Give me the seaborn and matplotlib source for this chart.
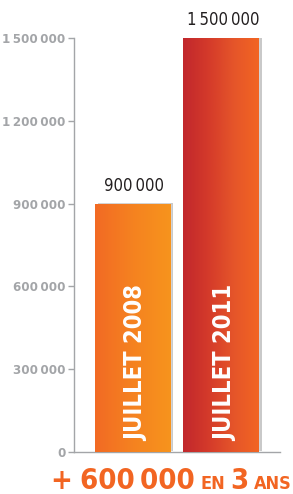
import numpy as np
import pandas as pd
import seaborn as sns
import matplotlib.pyplot as plt
import matplotlib.patheffects as PathEffects
from matplotlib.colors import LinearSegmentedColormap

# données
categories = ['JUILLET 2008', 'JUILLET 2011']
valeurs = [900000, 1500000]
yticks = [0, 300000, 600000, 900000, 1200000, 1500000]
titre_parts = ['+', '600\u2009000', 'EN', '3', 'ANS']

ORANGE = '#F26522'
GRIS = '#A3A5A8'


def fmt(v):
    return f'{v:,}'.replace(',', '\u2009')


df = pd.DataFrame({'periode': categories, 'valeur': valeurs})

sns.set_style('white')
plt.rcParams['font.family'] = ['DejaVu Sans']

fig = plt.figure(figsize=(2.93, 4.94), dpi=100)
ax = fig.add_axes([74 / 293, 42 / 494, 206 / 293, 414 / 494])

sns.barplot(data=df, x='periode', y='valeur', color=ORANGE, width=0.85,
            ax=ax, zorder=2)

# dégradés des barres
degrades = [
    LinearSegmentedColormap.from_list('b1', ['#F26A24', '#F58220', '#F7941D']),
    LinearSegmentedColormap.from_list('b2', ['#C1272D', '#D43A2A', '#E5552A', '#F26522']),
]
grad = np.linspace(0, 1, 256).reshape(1, -1)
for p, cmap in zip(ax.patches, degrades):
    x0, w, h = p.get_x(), p.get_width(), p.get_height()
    p.set_path_effects([PathEffects.SimplePatchShadow(offset=(2.5, 0.5), shadow_rgbFace='#888888', alpha=0.45),
                        PathEffects.Normal()])
    im = ax.imshow(grad, cmap=cmap, aspect='auto', extent=(x0, x0 + w, 0, h),
                   zorder=3, interpolation='bicubic')
    im.set_clip_path(p)

ax.set_xlim(-0.66, 1.67)
ax.set_ylim(0, 1500000)

# valeurs au-dessus des barres
for i, v in enumerate(valeurs):
    ax.annotate(fmt(v), (i, v), xytext=(2, 9), textcoords='offset pixels',
                ha='center', va='bottom', fontsize=12, color='#231F20',
                fontstretch='condensed', annotation_clip=False)
    ax.annotate(categories[i], (i, 0), xytext=(4, 11), textcoords='offset pixels',
                ha='center', va='bottom', rotation=90, fontsize=17,
                fontweight='bold', color='white', fontstretch='condensed', zorder=5)

# axes
ax.set_xlabel('')
ax.set_ylabel('')
ax.set_xticks([])
ax.set_yticks(yticks)
ax.set_yticklabels([fmt(t) for t in yticks], fontsize=9.5, fontweight='bold',
                   color=GRIS, fontstretch='condensed')
ax.tick_params(axis='y', length=4, width=1, color=GRIS, direction='out', pad=2, left=True)
for s in ['top', 'right']:
    ax.spines[s].set_visible(False)
for s in ['left', 'bottom']:
    ax.spines[s].set_color(GRIS)
    ax.spines[s].set_linewidth(1)
ax.set_facecolor('white')

# titre du bas
fig.canvas.draw()
renderer = fig.canvas.get_renderer()
x = 50 / 293
tailles = [21, 21, 13, 21, 13]
ecarts = [8, 6, 5, 5, 0]
for txt, fs, e in zip(titre_parts, tailles, ecarts):
    t = fig.text(x, 5 / 494, txt, fontsize=fs, fontweight='bold', color=ORANGE,
                 ha='left', va='baseline', fontstretch='condensed')
    bb = t.get_window_extent(renderer)
    x = (bb.x1 + e) / fig.bbox.width

fig.savefig('out.png', dpi=100, facecolor='white')
